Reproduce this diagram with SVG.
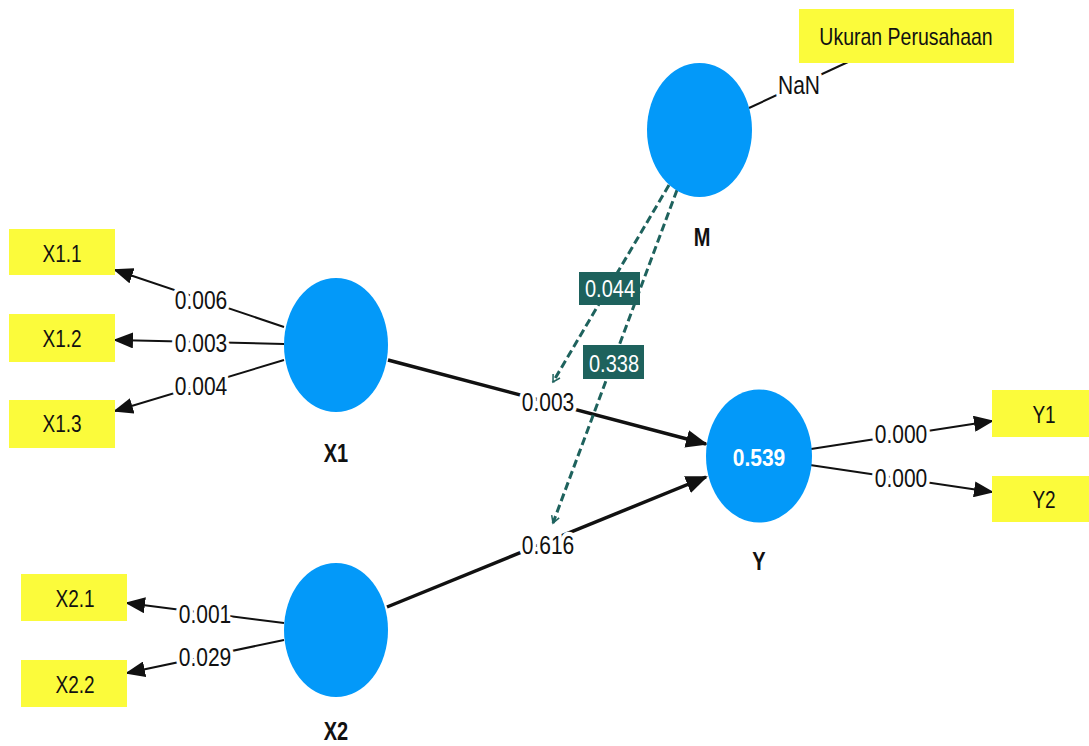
<svg xmlns="http://www.w3.org/2000/svg" width="1089" height="746" viewBox="0 0 1089 746">
<style>
.lv{fill:#0399f9}
.box{fill:#fbfb3b}
.bt{font-family:"Liberation Sans",Arial,sans-serif;font-size:19px;fill:#111;text-anchor:middle}
.nm{font-family:"Liberation Sans",Arial,sans-serif;font-size:20px;font-weight:bold;fill:#111;text-anchor:middle}
.lbl{font-family:"Liberation Sans",Arial,sans-serif;font-size:21px;fill:#111;text-anchor:middle;paint-order:stroke;stroke:#fff;stroke-width:7px;stroke-linejoin:round}
.r2{font-family:"Liberation Sans",Arial,sans-serif;font-size:21px;font-weight:bold;fill:#fff;text-anchor:middle}
.ln{stroke:#111;stroke-width:2;fill:none}
.thk{stroke:#111;stroke-width:3.5;fill:none}
.dsh{stroke:#1e625d;stroke-width:3;stroke-dasharray:8 4;fill:none}
.tb{fill:#1e625d}
.tt{font-family:"Liberation Sans",Arial,sans-serif;font-size:20px;fill:#fff;text-anchor:middle}
</style>
<defs>
<marker id="ah" markerUnits="userSpaceOnUse" markerWidth="20" markerHeight="16" refX="18" refY="8" orient="auto"><path d="M0,0 L20,8 L0,16 z" fill="#111"/></marker>
<marker id="ahb" markerUnits="userSpaceOnUse" markerWidth="22" markerHeight="18" refX="20" refY="9" orient="auto"><path d="M0,0 L22,9 L0,18 z" fill="#111"/></marker>
<marker id="oa" markerUnits="userSpaceOnUse" markerWidth="10" markerHeight="10" refX="8" refY="5" orient="auto"><path d="M1,1 L8,5 L1,9" fill="none" stroke="#1e625d" stroke-width="1.5"/></marker>
</defs>
<rect width="1089" height="746" fill="#fff"/>

<g id="connectors">
<line class="ln" x1="284" y1="327" x2="115" y2="270" marker-end="url(#ah)"/>
<line class="ln" x1="284" y1="344" x2="115" y2="340" marker-end="url(#ah)"/>
<line class="ln" x1="284" y1="360" x2="115" y2="411" marker-end="url(#ah)"/>
<line class="ln" x1="284" y1="623" x2="127" y2="603" marker-end="url(#ah)"/>
<line class="ln" x1="284" y1="640" x2="127" y2="673" marker-end="url(#ah)"/>
<line class="ln" x1="811" y1="449" x2="992" y2="421" marker-end="url(#ah)"/>
<line class="ln" x1="810" y1="465" x2="992" y2="492" marker-end="url(#ah)"/>
<line class="ln" x1="749" y1="108" x2="848" y2="62"/>
<line class="thk" x1="388" y1="360" x2="706" y2="444" marker-end="url(#ahb)"/>
<line class="thk" x1="387" y1="607" x2="706" y2="477" marker-end="url(#ahb)"/>
<line class="dsh" x1="669" y1="185" x2="553" y2="382" marker-end="url(#oa)"/>
<line class="dsh" x1="677" y1="190" x2="553" y2="523" marker-end="url(#oa)"/>
<text class="lbl" transform="translate(201 309) scale(1 1.2)">0.006</text>
<text class="lbl" transform="translate(201 352) scale(1 1.2)">0.003</text>
<text class="lbl" transform="translate(201 395) scale(1 1.2)">0.004</text>
<text class="lbl" transform="translate(205 623) scale(1 1.2)">0.001</text>
<text class="lbl" transform="translate(205 666) scale(1 1.2)">0.029</text>
<text class="lbl" transform="translate(901 443) scale(1 1.2)">0.000</text>
<text class="lbl" transform="translate(901 487) scale(1 1.2)">0.000</text>
<text class="lbl" transform="translate(548 411) scale(1 1.2)">0.003</text>
<text class="lbl" transform="translate(548 554) scale(1 1.2)">0.616</text>
<text class="lbl" transform="translate(799 94) scale(1 1.2)">NaN</text>
<rect class="tb" x="579" y="272" width="61" height="33"/>
<text class="tt" transform="translate(610 297) scale(1 1.2)">0.044</text>
<rect class="tb" x="583" y="345" width="61" height="34"/>
<text class="tt" transform="translate(614 372) scale(1 1.2)">0.338</text>
</g>

<g id="X1">
<ellipse class="lv" cx="336" cy="345" rx="52" ry="67"/>
<text class="nm" transform="translate(336 462) scale(1 1.25)">X1</text>
</g>
<g id="X2">
<ellipse class="lv" cx="336" cy="630" rx="52" ry="67"/>
<text class="nm" transform="translate(336 740) scale(1 1.25)">X2</text>
</g>
<g id="M">
<ellipse class="lv" cx="699.5" cy="130" rx="52.5" ry="67"/>
<text class="nm" transform="translate(702 246) scale(1 1.25)">M</text>
</g>
<g id="Y">
<ellipse class="lv" cx="759" cy="456" rx="53" ry="66.5"/>
<text class="r2" transform="translate(759 466) scale(1 1.15)">0.539</text>
<text class="nm" transform="translate(759 570) scale(1 1.25)">Y</text>
</g>

<g id="X1.1"><rect class="box" x="9" y="229" width="106" height="46"/><text class="bt" transform="translate(62 262) scale(1 1.25)">X1.1</text></g>
<g id="X1.2"><rect class="box" x="9" y="314" width="106" height="48"/><text class="bt" transform="translate(62 347) scale(1 1.25)">X1.2</text></g>
<g id="X1.3"><rect class="box" x="9" y="400" width="106" height="48"/><text class="bt" transform="translate(62 432) scale(1 1.25)">X1.3</text></g>
<g id="X2.1"><rect class="box" x="21" y="574" width="106" height="47"/><text class="bt" transform="translate(75 607) scale(1 1.25)">X2.1</text></g>
<g id="X2.2"><rect class="box" x="21" y="660" width="106" height="47"/><text class="bt" transform="translate(75 693) scale(1 1.25)">X2.2</text></g>
<g id="Y1"><rect class="box" x="992" y="390" width="97" height="47"/><text class="bt" transform="translate(1044 423) scale(1 1.25)">Y1</text></g>
<g id="Y2"><rect class="box" x="992" y="476" width="97" height="46"/><text class="bt" transform="translate(1044 508) scale(1 1.25)">Y2</text></g>
<g id="UkuranPerusahaan"><rect class="box" x="799" y="9" width="215" height="54"/><text class="bt" style="font-size:19.5px" transform="translate(906 45) scale(1 1.2)">Ukuran Perusahaan</text></g>
</svg>
